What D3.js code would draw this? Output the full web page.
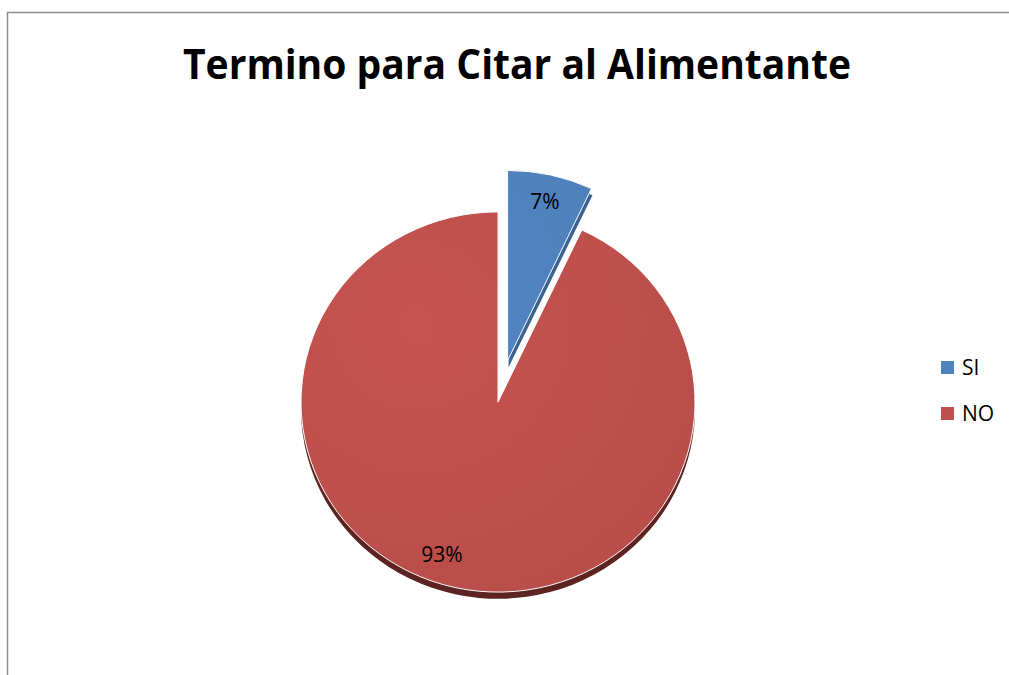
<!DOCTYPE html>
<html>
<head>
<meta charset="utf-8">
<script src="https://cdn.jsdelivr.net/npm/d3@7"></script>
<style>
  body { margin: 0; background: #fff; }
  text { font-family: "Open Sans", "DejaVu Sans", sans-serif; }
</style>
</head>
<body>
<div id="chart"></div>
<script>
// data
var categories = ["SI", "NO"];
var values = [7, 93];
var colors = ["#4f81bd", "#c0504d"];
var darkColors = ["#3a6290", "#5c2321"];
var chartTitle = "Termino para Citar al Alimentante";

var svgWidth = 1009;
var svgHeight = 675;

var svg = d3.select("#chart")
  .append("svg")
  .attr("width", svgWidth)
  .attr("height", svgHeight);

// frame (only left/top visible)
svg.append("rect")
  .attr("x", 7.5)
  .attr("y", 12.5)
  .attr("width", 1100)
  .attr("height", 800)
  .attr("fill", "none")
  .attr("stroke", "#8c8c8c")
  .attr("stroke-width", 1.5);

// title
svg.append("text")
  .attr("x", 517)
  .attr("y", 79)
  .attr("text-anchor", "middle")
  .attr("textLength", 668)
  .attr("lengthAdjust", "spacingAndGlyphs")
  .style("font-size", "41px")
  .style("font-weight", "bold")
  .text(chartTitle);

// pie setup
var cx = 498, cy = 402;
var radius = 197;
var squash = 0.965;
var depth = 7;
var explode = 44;

var pie = d3.pie().sort(null).value(d => d);
var arcs = pie(values);
var arc = d3.arc().innerRadius(0).outerRadius(radius);

var defs = svg.append("defs");
colors.forEach((c, i) => {
  var g = defs.append("radialGradient")
    .attr("id", "grad" + i)
    .attr("gradientUnits", "userSpaceOnUse")
    .attr("cx", -80).attr("cy", -80).attr("r", 320);
  g.append("stop").attr("offset", "0%").attr("stop-color", d3.color(c).brighter(0.1));
  g.append("stop").attr("offset", "100%").attr("stop-color", d3.color(c).darker(0.12));
});

function offset(d, i) {
  if (i !== 0) return [0, 0];
  var mid = (d.startAngle + d.endAngle) / 2;
  return [Math.sin(mid) * explode, -Math.cos(mid) * explode];
}

var pieGroup = svg.append("g")
  .attr("transform", `translate(${cx}, ${cy}) scale(1, ${squash})`);

// depth (side) layer
pieGroup.selectAll(".side")
  .data(arcs)
  .enter()
  .append("path")
  .attr("class", "side")
  .attr("d", arc)
  .attr("fill", (d, i) => darkColors[i])
  .attr("transform", (d, i) => {
    var o = offset(d, i);
    return `translate(${o[0] + (i === 0 ? 1 : 0)}, ${o[1] + depth})`;
  });

// top faces
pieGroup.selectAll(".slice")
  .data(arcs)
  .enter()
  .append("path")
  .attr("class", "slice")
  .attr("d", arc)
  .attr("fill", (d, i) => `url(#grad${i})`)
  .attr("stroke", "#fff")
  .attr("stroke-width", 1)
  .attr("transform", (d, i) => {
    var o = offset(d, i);
    return `translate(${o[0]}, ${o[1]})`;
  });

// percentage labels
var labelPos = [[47, -200], [-56, 153]];
svg.append("g")
  .selectAll("text")
  .data(arcs)
  .enter()
  .append("text")
  .attr("x", (d, i) => cx + labelPos[i][0])
  .attr("y", (d, i) => cy + labelPos[i][1])
  .attr("text-anchor", "middle")
  .attr("dy", "0.35em")
  .style("font-size", "21px")
  .style("fill", "#000")
  .text(d => Math.round(d.data) + "%");

// legend
var legend = svg.append("g")
  .attr("transform", "translate(941, 367)");

var items = legend.selectAll("g")
  .data(categories)
  .enter()
  .append("g")
  .attr("transform", (d, i) => `translate(0, ${i * 46})`);

items.append("rect")
  .attr("x", 0)
  .attr("y", -6)
  .attr("width", 13)
  .attr("height", 13)
  .attr("fill", (d, i) => colors[i]);

items.append("text")
  .attr("x", 21)
  .attr("y", 1)
  .attr("dy", "0.35em")
  .style("font-size", "21px")
  .text(d => d);
</script>
</body>
</html>
